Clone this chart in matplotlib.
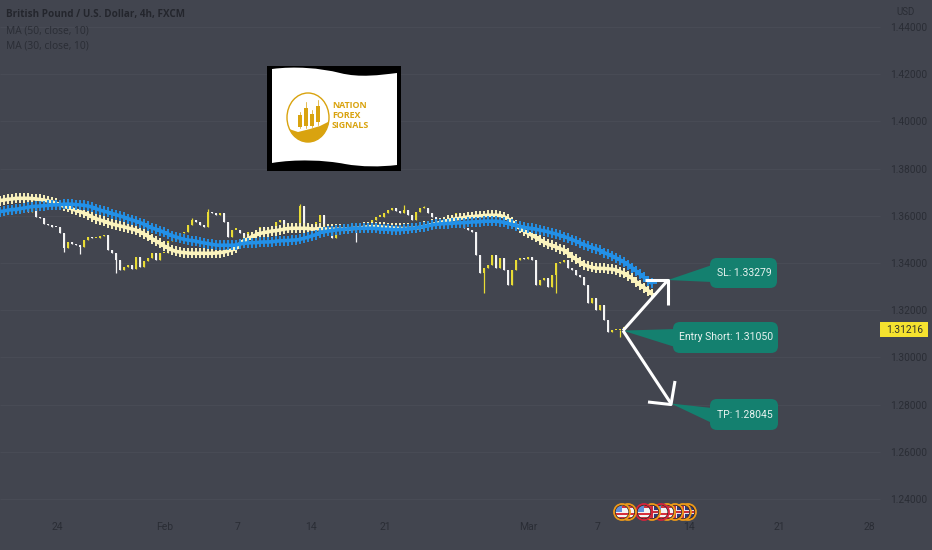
"""GBP/USD 4h chart with two MA ribbons and short-trade callouts."""
import matplotlib
matplotlib.use("Agg")
import matplotlib.pyplot as plt
from matplotlib.patches import Circle, Ellipse, FancyBboxPatch, PathPatch, Polygon, Rectangle
from matplotlib.path import Path

# closes, one every bar of the plot's own index
closes = [
    1.3603, 1.3608, 1.3625, 1.3639, 1.3618, 1.3627, 1.3636, 1.3618, 1.3639, 1.3596,
    1.3589, 1.3565, 1.3561, 1.3554, 1.3551, 1.3526, 1.3462, 1.3490, 1.3481, 1.3476,
    1.3466, 1.3497, 1.3512, 1.3505, 1.3505, 1.3514, 1.3519, 1.3455, 1.3441, 1.3413,
    1.3370, 1.3382, 1.3392, 1.3373, 1.3427, 1.3384, 1.3410, 1.3420, 1.3444, 1.3413,
    1.3441, 1.3444, 1.3495, 1.3497, 1.3519, 1.3526, 1.3533, 1.3561, 1.3582, 1.3575,
    1.3561, 1.3551, 1.3617, 1.3610, 1.3603, 1.3610, 1.3575, 1.3512, 1.3540, 1.3540,
    1.3526, 1.3505, 1.3533, 1.3526, 1.3540, 1.3554, 1.3533, 1.3547, 1.3554, 1.3575,
    1.3582, 1.3547, 1.3533, 1.3547, 1.3571, 1.3641, 1.3540, 1.3561, 1.3540, 1.3575,
    1.3603, 1.3547, 1.3547, 1.3505, 1.3526, 1.3533, 1.3547, 1.3561, 1.3547, 1.3533,
    1.3540, 1.3554, 1.3568, 1.3582, 1.3596, 1.3596, 1.3610, 1.3625, 1.3632, 1.3622,
    1.3610, 1.3625, 1.3603, 1.3582, 1.3617, 1.3632, 1.3632, 1.3610, 1.3596, 1.3582,
    1.3568, 1.3575, 1.3596, 1.3603, 1.3610, 1.3603, 1.3547, 1.3540, 1.3533, 1.3434,
    1.3356, 1.3378, 1.3392, 1.3434, 1.3378, 1.3420, 1.3370, 1.3307, 1.3370, 1.3413,
    1.3420, 1.3416, 1.3427, 1.3413, 1.3307, 1.3328, 1.3335, 1.3300, 1.3349, 1.3399,
    1.3406, 1.3413, 1.3378, 1.3370, 1.3349, 1.3342, 1.3307, 1.3229, 1.3250, 1.3201,
    1.3222, 1.3159, 1.3106, 1.3116, 1.3116, 1.3116, 1.3130,
]
# the long wicks only, bar -> price
wick_highs = {75: 1.3650, 52: 1.3627, 101: 1.3646, 106: 1.3640, 48: 1.3590}
wick_lows = {20: 1.3438, 29: 1.3359, 89: 1.3488, 121: 1.3274, 139: 1.3272, 155: 1.3088, 16: 1.3445}

ma50 = [
    1.3618, 1.3620, 1.3624, 1.3626, 1.3627, 1.3630, 1.3633, 1.3636, 1.3639, 1.3640,
    1.3641, 1.3643, 1.3644, 1.3646, 1.3646, 1.3647, 1.3649, 1.3649, 1.3649, 1.3647,
    1.3646, 1.3644, 1.3641, 1.3637, 1.3630, 1.3624, 1.3619, 1.3615, 1.3609, 1.3605,
    1.3599, 1.3594, 1.3588, 1.3582, 1.3577, 1.3571, 1.3564, 1.3555, 1.3548, 1.3543,
    1.3537, 1.3530, 1.3523, 1.3516, 1.3510, 1.3505, 1.3500, 1.3497, 1.3495, 1.3492,
    1.3488, 1.3485, 1.3482, 1.3479, 1.3476, 1.3475, 1.3475, 1.3475, 1.3475, 1.3476,
    1.3481, 1.3483, 1.3485, 1.3486, 1.3486, 1.3488, 1.3489, 1.3489, 1.3490, 1.3492,
    1.3494, 1.3495, 1.3495, 1.3497, 1.3497, 1.3500, 1.3505, 1.3509, 1.3515, 1.3520,
    1.3529, 1.3532, 1.3535, 1.3537, 1.3540, 1.3541, 1.3543, 1.3544, 1.3546, 1.3547,
    1.3547, 1.3547, 1.3547, 1.3547, 1.3546, 1.3544, 1.3543, 1.3543, 1.3541, 1.3541,
    1.3541, 1.3543, 1.3544, 1.3546, 1.3548, 1.3551, 1.3554, 1.3558, 1.3561, 1.3564,
    1.3565, 1.3567, 1.3567, 1.3568, 1.3570, 1.3570, 1.3571, 1.3572, 1.3574, 1.3574,
    1.3575, 1.3577, 1.3577, 1.3577, 1.3577, 1.3575, 1.3572, 1.3567, 1.3563, 1.3558,
    1.3555, 1.3551, 1.3548, 1.3546, 1.3543, 1.3539, 1.3536, 1.3532, 1.3527, 1.3523,
    1.3517, 1.3512, 1.3506, 1.3499, 1.3492, 1.3485, 1.3478, 1.3471, 1.3465, 1.3460,
    1.3453, 1.3444, 1.3437, 1.3430, 1.3421, 1.3413, 1.3404, 1.3393, 1.3380, 1.3366,
    1.3352, 1.3339, 1.3325, 1.3314,
]
ma30 = [
    1.3664, 1.3667, 1.3670, 1.3671, 1.3674, 1.3674, 1.3674, 1.3674, 1.3673, 1.3671,
    1.3669, 1.3666, 1.3663, 1.3659, 1.3653, 1.3647, 1.3640, 1.3635, 1.3629, 1.3623,
    1.3618, 1.3611, 1.3604, 1.3595, 1.3588, 1.3582, 1.3577, 1.3571, 1.3565, 1.3561,
    1.3557, 1.3553, 1.3548, 1.3544, 1.3539, 1.3532, 1.3523, 1.3513, 1.3503, 1.3493,
    1.3483, 1.3472, 1.3464, 1.3455, 1.3449, 1.3446, 1.3444, 1.3442, 1.3441, 1.3441,
    1.3441, 1.3441, 1.3441, 1.3441, 1.3442, 1.3444, 1.3446, 1.3451, 1.3455, 1.3462,
    1.3481, 1.3495, 1.3502, 1.3512, 1.3519, 1.3525, 1.3529, 1.3532, 1.3535, 1.3537,
    1.3540, 1.3543, 1.3546, 1.3547, 1.3547, 1.3547, 1.3547, 1.3546, 1.3544, 1.3544,
    1.3546, 1.3544, 1.3543, 1.3543, 1.3543, 1.3543, 1.3544, 1.3544, 1.3546, 1.3547,
    1.3548, 1.3551, 1.3553, 1.3554, 1.3554, 1.3553, 1.3551, 1.3550, 1.3548, 1.3547,
    1.3546, 1.3546, 1.3546, 1.3547, 1.3548, 1.3551, 1.3555, 1.3558, 1.3563, 1.3567,
    1.3571, 1.3575, 1.3580, 1.3584, 1.3587, 1.3589, 1.3592, 1.3595, 1.3596, 1.3598,
    1.3599, 1.3601, 1.3602, 1.3602, 1.3602, 1.3601, 1.3596, 1.3587, 1.3575, 1.3561,
    1.3547, 1.3536, 1.3526, 1.3517, 1.3508, 1.3498, 1.3488, 1.3479, 1.3474, 1.3468,
    1.3461, 1.3454, 1.3441, 1.3427, 1.3416, 1.3403, 1.3393, 1.3386, 1.3381, 1.3378,
    1.3377, 1.3377, 1.3375, 1.3374, 1.3370, 1.3363, 1.3356, 1.3346, 1.3335, 1.3321,
    1.3307, 1.3296, 1.3283, 1.3269,
]

price_ticks = [1.24, 1.26, 1.28, 1.30, 1.32, 1.34, 1.36, 1.38, 1.40, 1.42, 1.44]
date_labels = ["24", "Feb", "7", "14", "21", "Mar", "7", "14", "21", "28"]
date_bars = [14.25, 41.25, 59.5, 77.75, 96.25, 132, 149.5, 172.25, 194.75, 217.25]

entry_price = 1.31050
sl_price = 1.33279
tp_price = 1.28045
last_price = 1.31216

BG = "#42454f"
GRID = "#484b55"
DARK = "#2a2d35"
TEAL = "#14806f"
GOLD = "#d9a30f"

plt.rcParams["font.family"] = ["Open Sans", "DejaVu Sans"]

fig = plt.figure(figsize=(9.32, 5.5), dpi=100, facecolor=BG)
ax = fig.add_axes([0, 0, 1, 1], facecolor=BG)
ax.set_xlim(0, 233)
ax.set_ylim(1.2184, 1.4514)
for spine in ax.spines.values():
    spine.set_visible(False)

ax.hlines(price_ticks, 0, 220, color=GRID, lw=0.8, zorder=1)

ax.yaxis.tick_right()
ax.set_yticks(price_ticks)
ax.set_yticklabels([f"{p:.5f}" for p in price_ticks], family="Roboto", fontsize=7.3, color=DARK)
ax.tick_params(axis="y", length=0, pad=-30)
ax.set_xticks(date_bars)
ax.set_xticklabels(date_labels, family="Roboto", fontsize=7.5, color=DARK)
ax.tick_params(axis="x", length=0, pad=-20)

# candles: open is the previous close
prev = closes[0]
for i, close in enumerate(closes):
    up = close >= prev
    col = "#e9dc35" if up else "#f4f4f4"
    low, high = min(prev, close), max(prev, close)
    ax.vlines(i, wick_lows.get(i, low), wick_highs.get(i, high), color=col, lw=0.9, zorder=2)
    ax.add_patch(Rectangle((i - 0.3, low), 0.6, max(high - low, 0.0006), color=col, lw=0, zorder=2))
    prev = close

for series, col, z in ((ma30, "#fbf3bd", 3), (ma50, "#2390e6", 4)):
    bars = range(len(series))
    ax.plot(bars, series, color=col, lw=2.6, zorder=z, solid_capstyle="butt")
    ax.plot(bars, series, ls="none", marker="+", ms=6.5, mew=1.4, color=col, zorder=z)

# everything below is pinned to the picture, in pixels
top = fig.add_axes([0, 0, 1, 1], facecolor="none")
top.set_xlim(0, 932)
top.set_ylim(550, 0)
top.axis("off")


def y_px(price):
    return 499 - (price - 1.24) * 2360


def callout(box, tail, text):
    x0, y0, x1, y1 = box
    top.add_patch(Polygon(tail, closed=True, color=TEAL, lw=0, zorder=6))
    top.add_patch(FancyBboxPatch((x0 + 6, y0 + 6), x1 - x0 - 12, y1 - y0 - 12,
                                 boxstyle="round,pad=6,rounding_size=7", color=TEAL, lw=0, zorder=6))
    top.text((x0 + x1) / 2 + 0.5, (y0 + y1) / 2, text, color="#e8f3f0", family="Roboto",
             fontsize=7.5, ha="center", va="center", zorder=7)


sl_y, tp_y, entry_y = y_px(sl_price), y_px(tp_price), y_px(entry_price) - 2
callout((710, 258, 777, 288), [(668, sl_y), (712, 265), (712, 282)], f"SL: {sl_price:.5f}")
callout((673, 322, 778, 353), [(623, entry_y), (675, 329), (675, 347)], f"Entry Short: {entry_price:.5f}")
callout((710, 399, 778, 430), [(671, tp_y), (712, 408), (712, 423)], f"TP: {tp_price:.5f}")

arrow = dict(color="white", lw=2.2, zorder=8, solid_capstyle="butt")
top.plot([623, 668], [entry_y, sl_y], **arrow)
top.plot([645, 668, 668], [sl_y, sl_y, 305], **arrow)
top.plot([623, 671], [entry_y, tp_y], **arrow)
top.plot([648, 671, 675], [402, tp_y + 1, 381], **arrow)

# last price tag
top.add_patch(Rectangle((880, 322), 48, 15, color="#f5e22f", lw=0, zorder=6))
top.text(905, 330, f"{last_price:.5f}", family="Roboto", fontsize=7.3, color="#33332a",
         ha="center", va="center", zorder=7)

top.text(906, 12, "USD", family="Roboto", fontsize=7, color=DARK, ha="center", va="center")
top.text(6, 15, "British Pound / U.S. Dollar, 4h, FXCM", fontsize=7.1, fontweight="bold", color="#24262d", va="center")
top.text(6, 31, "MA (50, close, 10)", fontsize=7.4, color=DARK, va="center")
top.text(6, 46, "MA (30, close, 10)", fontsize=7.4, color=DARK, va="center")

# logo flag
top.add_patch(Rectangle((267, 66), 134, 105, color="black", lw=0, zorder=5))
flag = Path(
    [(272, 69), (295, 66), (320, 68), (340, 73), (360, 78), (380, 75), (397, 73),
     (397, 165),
     (380, 167), (362, 167), (345, 164), (325, 160), (295, 159), (272, 163),
     (272, 69)],
    [Path.MOVETO, Path.CURVE4, Path.CURVE4, Path.CURVE4, Path.CURVE4, Path.CURVE4, Path.CURVE4,
     Path.LINETO,
     Path.CURVE4, Path.CURVE4, Path.CURVE4, Path.CURVE4, Path.CURVE4, Path.CURVE4,
     Path.CLOSEPOLY],
)
top.add_patch(PathPatch(flag, facecolor="white", lw=0, zorder=6))
ring = Ellipse((308, 117.5), 42, 49, facecolor="none", edgecolor=GOLD, lw=1.0, zorder=7)
top.add_patch(ring)
hill = Polygon([(286, 128), (298, 132), (310, 129), (320, 126), (330, 121), (330, 143), (286, 143)],
               closed=True, color=GOLD, lw=0, zorder=7)
top.add_patch(hill)
hill.set_clip_path(ring)
for cx, y0, y1, t0, t1 in ((300, 115, 127, 112, 128), (306, 108, 126, 102, 128),
                           (312, 114, 126, 110, 127), (318, 106, 122, 100, 125)):
    top.plot([cx, cx], [t0, t1], color=GOLD, lw=0.5, zorder=7)
    top.add_patch(Rectangle((cx - 1.7, y0), 3.4, y1 - y0, color=GOLD, lw=0, zorder=7))
for line_y, word in ((105, "NATION"), (115, "FOREX"), (125, "SIGNALS")):
    top.text(332, line_y, word, fontsize=6.4, fontweight="bold", color=GOLD, va="center", zorder=7)


def event_icon(x, rim, us):
    y = 512
    disc = Circle((x, y), 6.5, facecolor="#f3f3f3" if us else "#2d3a78", lw=0, zorder=6)
    top.add_patch(disc)
    parts = []
    if us:
        parts.append(Rectangle((x - 7, y - 6.5), 14, 2.4, color="#d8303c", lw=0, zorder=6))
        parts.append(Rectangle((x - 7, y + 0.5), 14, 2.2, color="#d8303c", lw=0, zorder=6))
        parts.append(Rectangle((x - 7, y + 4.5), 14, 2.2, color="#d8303c", lw=0, zorder=6))
        parts.append(Rectangle((x - 7, y - 6.5), 7, 6.5, color="#5f8fd8", lw=0, zorder=6))
    else:
        parts.append(Rectangle((x - 7, y - 1.6), 14, 3.2, color="#e9e3e6", lw=0, zorder=6))
        parts.append(Rectangle((x - 1.6, y - 7), 3.2, 14, color="#e9e3e6", lw=0, zorder=6))
        parts.append(Rectangle((x - 7, y - 0.8), 14, 1.6, color="#c8303c", lw=0, zorder=6))
        parts.append(Rectangle((x - 0.8, y - 7), 1.6, 14, color="#c8303c", lw=0, zorder=6))
    for part in parts:
        top.add_patch(part)
        part.set_clip_path(disc)
    top.add_patch(Circle((x, y), 7, facecolor="none", edgecolor="#2a1a18", lw=0.8, zorder=6))
    top.add_patch(Circle((x, y), 8, facecolor="none", edgecolor=rim, lw=1.3, zorder=6))


ORANGE, RED = "#ee9a18", "#d4233c"
for x, rim, us in ((688, ORANGE, False), (683, ORANGE, False), (675, ORANGE, False),
                   (667, ORANGE, True), (661, RED, True), (652, ORANGE, False),
                   (644, RED, True), (628, ORANGE, True), (622, ORANGE, True)):
    event_icon(x, rim, us)

fig.savefig("out.png", dpi=100, facecolor=BG)
